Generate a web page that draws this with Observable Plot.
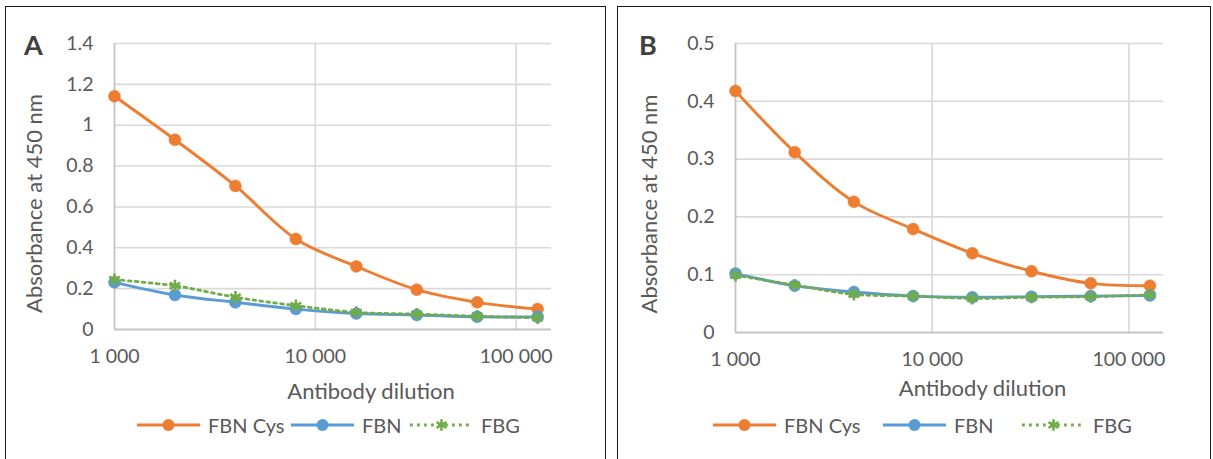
<!DOCTYPE html>
<html>
<head>
<meta charset="utf-8">
<script src="https://cdn.jsdelivr.net/npm/d3@7"></script>
<script src="https://cdn.jsdelivr.net/npm/@observablehq/plot@0.6"></script>
<style>
  html, body { margin: 0; padding: 0; background: #fff; }
  body { width: 1213px; height: 459px; position: relative; overflow: hidden; font-family: Lato, "Open Sans", sans-serif; }
  .panel { position: absolute; top: 6px; height: 470px; border: 1.5px solid #1a1a1a; box-sizing: border-box; background: #fff; }
  .panel svg { position: absolute; left: 0; top: 0; }
  .letter { position: absolute; font-weight: 700; font-size: 27px; color: #404040; line-height: 1; }
  .legend { position: absolute; height: 20px; width: 480px; font-size: 20px; color: #595959; white-space: nowrap; }
  .legend .item { position: absolute; top: 0; display: flex; align-items: center; height: 20px; }
  .legend svg { position: static; margin-right: 7px; }
</style>
</head>
<body>
<div id="panelA" class="panel" style="left:5px;width:601px;"></div>
<div id="panelB" class="panel" style="left:617px;width:594px;"></div>
<script>
// ---- data ----
const dilutions = [1000, 2000, 4000, 8000, 16000, 32000, 64000, 128000];
const seriesNames = ["FBN Cys", "FBN", "FBG"];
const seriesColors = ["#ED7D31", "#5B9BD5", "#70AD47"];

const aFbnCys = [1.142, 0.929, 0.703, 0.443, 0.309, 0.195, 0.133, 0.100];
const aFbn    = [0.231, 0.169, 0.133, 0.100, 0.078, 0.071, 0.062, 0.062];
const aFbg    = [0.244, 0.214, 0.158, 0.117, 0.084, 0.075, 0.065, 0.057];

const bFbnCys = [0.418, 0.312, 0.226, 0.179, 0.137, 0.106, 0.085, 0.081];
const bFbn    = [0.102, 0.081, 0.070, 0.063, 0.061, 0.062, 0.063, 0.064];
const bFbg    = [0.099, 0.082, 0.066, 0.063, 0.059, 0.061, 0.062, 0.065];

const xTicks = [1000, 10000, 100000];
const aYTicks = [0, 0.2, 0.4, 0.6, 0.8, 1, 1.2, 1.4];
const bYTicks = [0, 0.1, 0.2, 0.3, 0.4, 0.5];
const xTitle = "Antibody dilution";
const yTitle = "Absorbance at 450 nm";
const xDomain = [1000, 150000];

// ---- helpers ----
const fmtX = d => d3.format(",")(d).replace(/,/g, " ");
const fmtY = d => String(d);
const FONT = "Lato, 'Open Sans', sans-serif";
const TEXT = "#595959";

function toRows(vals) { return dilutions.map((d, i) => ({dilution: d, value: vals[i]})); }

function seriesMarks(vals, idx) {
  const data = toRows(vals);
  const color = seriesColors[idx];
  const marks = [];
  if (idx === 2) {
    marks.push(Plot.line(data, {x: "dilution", y: "value", stroke: color, strokeWidth: 2.8, strokeDasharray: "2.8 4.2", curve: "catmull-rom"}));
    marks.push(Plot.dot(data, {x: "dilution", y: "value", symbol: "asterisk", r: 5.8, stroke: color, strokeWidth: 2.6}));
  } else {
    marks.push(Plot.line(data, {x: "dilution", y: "value", stroke: color, strokeWidth: 2.9, curve: "catmull-rom"}));
    marks.push(Plot.dot(data, {x: "dilution", y: "value", r: 6, fill: color, stroke: color, strokeWidth: 0.5}));
  }
  return marks;
}

function chart(cfg) {
  return Plot.plot({
    width: cfg.width, height: cfg.height,
    marginLeft: cfg.ml, marginRight: cfg.mr, marginTop: cfg.mt, marginBottom: cfg.mb,
    style: {fontFamily: FONT, fontSize: "19px", color: TEXT, background: "transparent", overflow: "visible"},
    x: {type: "log", domain: xDomain},
    y: {domain: [0, cfg.yTicks[cfg.yTicks.length - 1]]},
    marks: [
      Plot.ruleX(xTicks.slice(1), {stroke: "#d9d9d9", strokeWidth: 1.6}),
      Plot.ruleY(cfg.yTicks.slice(1), {stroke: "#d9d9d9", strokeWidth: 1.6}),
      Plot.ruleX([xDomain[0]], {stroke: "#c4c4c4", strokeWidth: 1.8}),
      Plot.ruleY([0], {stroke: "#c4c4c4", strokeWidth: 2}),
      Plot.axisX(xTicks, {tickSize: 0, tickPadding: 20, tickFormat: fmtX, label: null, fontSize: 19.5, fill: TEXT}),
      Plot.axisY(cfg.yTicks, {tickSize: 0, tickPadding: 21, tickFormat: fmtY, label: null, fontSize: 19.5, fill: TEXT}),
      Plot.text([xTitle], {frameAnchor: "bottom", lineAnchor: "middle", textAnchor: "middle", dx: cfg.xtDx, dy: cfg.xtDy, fontSize: 22, fill: TEXT}),
      Plot.text([yTitle], {frameAnchor: "left", lineAnchor: "middle", textAnchor: "middle", rotate: -90, dx: cfg.ytDx, dy: cfg.ytDy, fontSize: 22, fill: TEXT}),
      ...cfg.series.flatMap((vals, i) => seriesMarks(vals, i))
    ]
  });
}

function swatch(idx) {
  const color = seriesColors[idx];
  const ns = "http://www.w3.org/2000/svg";
  const svg = document.createElementNS(ns, "svg");
  svg.setAttribute("width", 65); svg.setAttribute("height", 16);
  const line = document.createElementNS(ns, "line");
  line.setAttribute("x1", 1); line.setAttribute("x2", 64); line.setAttribute("y1", 8); line.setAttribute("y2", 8);
  line.setAttribute("stroke", color); line.setAttribute("stroke-width", 2.9);
  if (idx === 2) line.setAttribute("stroke-dasharray", "2.8 4.2");
  svg.appendChild(line);
  if (idx === 2) {
    const g = document.createElementNS(ns, "path");
    g.setAttribute("d", "M32.5,2.3V13.7M27.5,5.1L37.5,10.9M27.5,10.9L37.5,5.1");
    g.setAttribute("stroke", color); g.setAttribute("stroke-width", 2.6); g.setAttribute("fill", "none");
    svg.appendChild(g);
  } else {
    const c = document.createElementNS(ns, "circle");
    c.setAttribute("cx", 32.5); c.setAttribute("cy", 8); c.setAttribute("r", 6); c.setAttribute("fill", color);
    svg.appendChild(c);
  }
  return svg;
}

function legend(left, top, offsets) {
  const div = document.createElement("div");
  div.className = "legend";
  div.style.left = left + "px"; div.style.top = top + "px";
  seriesNames.forEach((name, i) => {
    const item = document.createElement("div");
    item.className = "item";
    item.style.left = offsets[i] + "px";
    item.appendChild(swatch(i));
    const span = document.createElement("span");
    span.textContent = name;
    item.appendChild(span);
    div.appendChild(item);
  });
  return div;
}

function letter(txt, left, top) {
  const d = document.createElement("div");
  d.className = "letter"; d.textContent = txt;
  d.style.left = left + "px"; d.style.top = top + "px";
  return d;
}

// Panel A (panel content origin: page x=6.5, y=7.5)
const pA = document.getElementById("panelA");
pA.appendChild(chart({
  width: 598, height: 400, ml: 108, mr: 53, mt: 36, mb: 78,
  yTicks: aYTicks, series: [aFbnCys, aFbn, aFbg],
  xtDx: 38, xtDy: 62, ytDx: -80, ytDy: 17
}));
pA.appendChild(legend(130, 408, [0, 154, 273]));
pA.appendChild(letter("A", 18, 24));

// Panel B (content origin: page x=618.5)
const pB = document.getElementById("panelB");
pB.appendChild(chart({
  width: 591, height: 400, ml: 117, mr: 46, mt: 36, mb: 75,
  yTicks: bYTicks, series: [bFbnCys, bFbn, bFbg],
  xtDx: 33, xtDy: 56, ytDx: -86, ytDy: 16
}));
pB.appendChild(legend(94, 408, [0, 170, 309]));
pB.appendChild(letter("B", 21, 24));
</script>
</body>
</html>
